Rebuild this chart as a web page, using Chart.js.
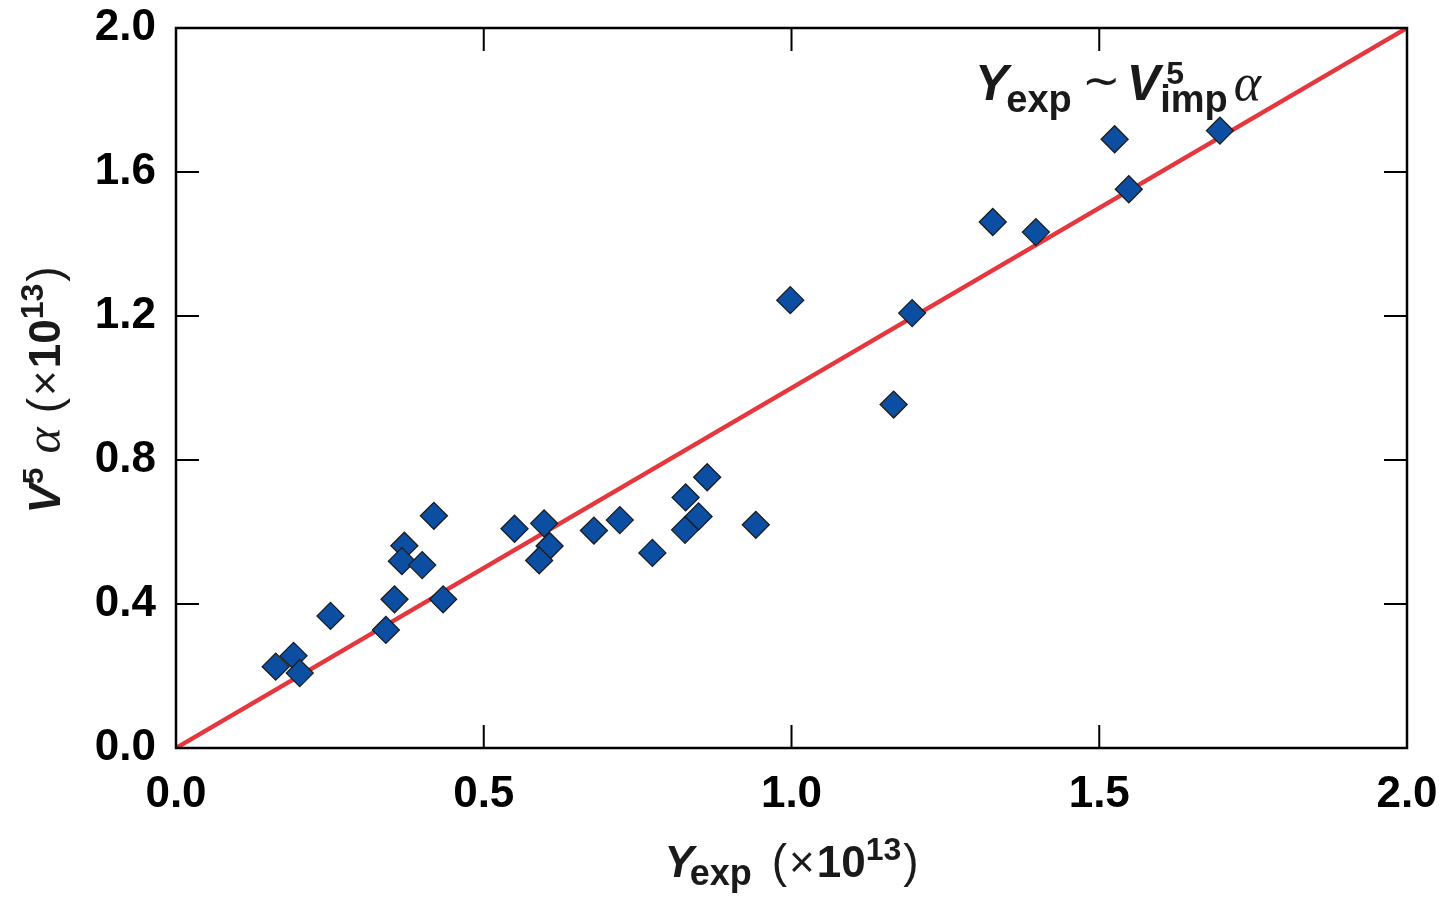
<!DOCTYPE html>
<html>
<head>
<meta charset="utf-8">
<script src="https://cdn.jsdelivr.net/npm/chart.js@4.4.0/dist/chart.umd.min.js"></script>
<style>
html,body{margin:0;padding:0;background:#fff;}
#wrap{width:1446px;height:900px;position:relative;}
</style>
</head>
<body>
<div id="wrap"><canvas id="c"></canvas></div>
<script>
// ---- data ----
const yExp = [0.162,0.191,0.201,0.251,0.341,0.355,0.371,0.367,0.400,0.419,0.434,0.550,0.598,0.607,0.590,0.679,0.721,0.774,0.828,0.827,0.849,0.863,0.942,0.998,1.166,1.196,1.327,1.397,1.525,1.548,1.696];
const v5alpha = [0.226,0.256,0.208,0.367,0.328,0.413,0.562,0.519,0.508,0.645,0.413,0.609,0.624,0.561,0.521,0.604,0.633,0.542,0.696,0.606,0.643,0.752,0.620,1.244,0.954,1.208,1.461,1.433,1.691,1.552,1.715];
const fitX = [0, 2];
const fitY = [0, 2];
const xTicks = [0, 0.5, 1.0, 1.5, 2.0];
const yTicks = [0, 0.4, 0.8, 1.2, 1.6, 2.0];

const SANS = '"Liberation Sans", Arial, Helvetica, sans-serif';
const SERIF = '"Liberation Serif", "DejaVu Serif", serif';

function drawRuns(ctx, runs, x, y, align) {
  let total = 0;
  runs.forEach(r => { ctx.font = r.f; r.w = ctx.measureText(r.t).width; if (!r.stack) total += r.w + (r.gap || 0); });
  let cx = align === 'center' ? x - total / 2 : x;
  let lastX = cx;
  runs.forEach(r => {
    ctx.font = r.f;
    const px = r.stack ? lastX : cx;
    ctx.fillText(r.t, px + (r.dx || 0), y + (r.dy || 0));
    if (!r.stack) { lastX = cx; cx += r.w + (r.gap || 0); }
    else { cx = Math.max(cx, lastX + (r.dx || 0) + r.w + (r.gap || 0)); }
  });
}

const decor = {
  id: 'decor',
  afterDatasetsDraw(chart) {
    const { ctx, chartArea: { left, right, top, bottom }, scales: { x, y } } = chart;
    ctx.save();
    ctx.strokeStyle = '#000';
    ctx.lineWidth = 2;
    const L = 23;
    ctx.beginPath();
    xTicks.forEach(v => {
      const px = x.getPixelForValue(v);
      if (px > left + 2 && px < right - 2) {
        ctx.moveTo(px, bottom); ctx.lineTo(px, bottom - L);
        ctx.moveTo(px, top); ctx.lineTo(px, top + L);
      }
    });
    yTicks.forEach(v => {
      const py = y.getPixelForValue(v);
      if (py > top + 2 && py < bottom - 2) {
        ctx.moveTo(left, py); ctx.lineTo(left + L, py);
        ctx.moveTo(right, py); ctx.lineTo(right - L, py);
      }
    });
    ctx.stroke();
    ctx.lineWidth = 2.5;
    ctx.strokeRect(left, top, right - left, bottom - top);
    ctx.restore();
  },
  afterDraw(chart) {
    const { ctx, chartArea: { left, right } } = chart;
    ctx.save();
    ctx.fillStyle = '#1a1a1a';
    ctx.textBaseline = 'alphabetic';
    ctx.textAlign = 'left';
    // x axis title
    drawRuns(ctx, [
      { t: 'Y', f: 'italic bold 44px ' + SANS, gap: -4 },
      { t: 'exp', f: 'bold 36px ' + SANS, dy: 8, gap: 20 },
      { t: '(', f: '46px ' + SANS, gap: 2 },
      { t: '×', f: '44px ' + SANS, gap: 2 },
      { t: '10', f: 'bold 44px ' + SANS },
      { t: '13', f: 'bold 32px ' + SANS, dy: -17, gap: 2 },
      { t: ')', f: '46px ' + SANS }
    ], (left + right) / 2, 877, 'center');
    // y axis title
    ctx.save();
    ctx.translate(60, 390);
    ctx.rotate(-Math.PI / 2);
    drawRuns(ctx, [
      { t: 'V', f: 'italic bold 44px ' + SANS },
      { t: '5', f: 'bold 30px ' + SANS, dy: -17, gap: 14 },
      { t: 'α', f: 'italic 50px ' + SERIF, gap: 14 },
      { t: '(', f: '46px ' + SANS, gap: 2 },
      { t: '×', f: '44px ' + SANS, gap: 2 },
      { t: '10', f: 'bold 44px ' + SANS },
      { t: '13', f: 'bold 32px ' + SANS, dy: -17, gap: 2 },
      { t: ')', f: '46px ' + SANS }
    ], 0, 0, 'center');
    ctx.restore();
    // annotation
    drawRuns(ctx, [
      { t: 'Y', f: 'italic bold 50px ' + SANS, gap: -2 },
      { t: 'exp', f: 'bold 38px ' + SANS, dy: 12, gap: 10 },
      { t: '∼', f: '46px ' + SANS, dy: -4, gap: 6 },
      { t: 'V', f: 'italic bold 50px ' + SANS, gap: 0 },
      { t: '5', f: 'bold 32px ' + SANS, dy: -16, dx: 6 },
      { t: 'imp', f: 'bold 38px ' + SANS, dy: 12, stack: true, gap: 6 },
      { t: 'α', f: 'italic 52px ' + SERIF }
    ], 975, 100, 'left');
    ctx.restore();
  }
};

new Chart(document.getElementById('c'), {
  data: {
    datasets: [
      {
        type: 'scatter',
        data: yExp.map((v, i) => ({ x: v, y: v5alpha[i] })),
        pointStyle: 'rectRot',
        pointRadius: 13.5,
        pointHoverRadius: 13.5,
        backgroundColor: '#0C4FA2',
        borderColor: '#1c1c1c',
        borderWidth: 1.3,
        order: 1
      },
      {
        type: 'line',
        data: fitX.map((v, i) => ({ x: v, y: fitY[i] })),
        borderColor: '#E5383E',
        borderWidth: 4.5,
        pointRadius: 0,
        fill: false,
        order: 2
      }
    ]
  },
  plugins: [decor],
  options: {
    responsive: true,
    maintainAspectRatio: false,
    animation: false,
    events: [],
    layout: { padding: { top: 28, right: 39, left: 0, bottom: 0 } },
    plugins: { legend: { display: false }, tooltip: { enabled: false } },
    scales: {
      x: {
        type: 'linear', min: 0, max: 2,
        afterBuildTicks: s => { s.ticks = xTicks.map(v => ({ value: v })); },
        afterFit: s => { s.height = 152; s.paddingLeft = 0; s.paddingRight = 0; },
        grid: { display: false, drawTicks: false },
        border: { display: false },
        ticks: {
          color: '#000', padding: 20,
          font: { family: SANS, size: 44, weight: 'bold' },
          callback: v => Number(v).toFixed(1),
          maxRotation: 0, autoSkip: false
        }
      },
      y: {
        type: 'linear', min: 0, max: 2,
        afterBuildTicks: s => { s.ticks = yTicks.map(v => ({ value: v })); },
        afterFit: s => { s.width = 176; s.paddingTop = 0; s.paddingBottom = 0; },
        grid: { display: false, drawTicks: false },
        border: { display: false },
        ticks: {
          color: '#000', padding: 20,
          font: { family: SANS, size: 44, weight: 'bold' },
          callback: v => Number(v).toFixed(1),
          autoSkip: false
        }
      }
    }
  }
});
</script>
</body>
</html>
